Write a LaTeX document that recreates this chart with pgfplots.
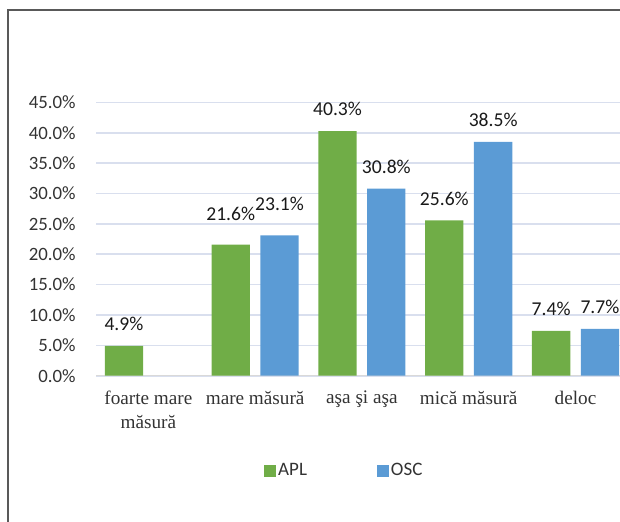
\documentclass[border=0pt]{standalone}
\usepackage{fontspec}
\setmainfont{Carlito}
\newfontfamily\catfont{Liberation Serif}
\usepackage{pgfplots}
\usepackage{pgfplotstable}
\pgfplotsset{compat=1.18}

\definecolor{aplgreen}{HTML}{70AD47}
\definecolor{oscblue}{HTML}{5B9BD5}
\definecolor{gridc}{HTML}{D9DFEE}
\definecolor{axisgray}{HTML}{D9D9D9}
\definecolor{framec}{HTML}{595959}
\definecolor{txt}{HTML}{333333}

% x, value, label lift (pt)
\pgfplotstableread{
x y dy
0 4.9 10.85
1 21.6 15.35
2 40.3 10.85
3 25.6 10.85
4 7.4 10.85
}\apl
\pgfplotstableread{
x y dy
1 23.1 15.7
2 30.8 10.85
3 38.5 10.85
4 7.7 10.85
}\osc

\begin{document}
\begin{tikzpicture}
\useasboundingbox (0,0) rectangle (310pt,260.5pt);
\clip (0,0) rectangle (310pt,260.5pt);
\draw[line width=1pt, framec] (4pt,-20pt) -- (4pt,255.5pt) -- (340pt,255.5pt);
\coordinate (O) at (48pt,72.65pt);
\begin{axis}[
    at={(O)}, anchor=south west,
    scale only axis,
    width=267pt, height=136.6pt,
    xmin=-0.49, xmax=4.51,
    ymin=0, ymax=45,
    ytick={0,5,...,45},
    xtick={0,1,2,3,4},
    xticklabels={{foarte mare\\măsură},{mare măsură},{aşa şi aşa},{mică măsură},{deloc}},
    major tick length=0pt,
    axis x line*=bottom,
    axis y line*=left,
    x axis line style={axisgray, line width=0.75pt, -},
    y axis line style={draw=none},
    ymajorgrids=true,
    grid style={gridc, line width=0.8pt},
    /pgf/number format/assume math mode=true,
    yticklabel={\pgfmathprintnumber[fixed,fixed zerofill,precision=1]{\tick}\%},
    yticklabel style={anchor=east, inner sep=0pt, xshift=-10pt, text=txt,
        font=\fontsize{9.4}{11}\selectfont},
    xticklabel style={anchor=north, inner sep=0pt, yshift=-7.5pt, align=center,
        text=txt, font=\catfont\fontsize{9.6}{11.85}\selectfont},
    ybar,
    bar width=19.15pt,
    nodes near coords={\pgfmathprintnumber[fixed,fixed zerofill,precision=1]{\pgfplotspointmeta}\%},
    visualization depends on={\thisrow{dy} \as \dy},
    every node near coord/.append style={anchor=center, inner sep=0pt, yshift=\dy pt,
        text=black!90, font=\fontsize{9.8}{11}\selectfont},
    legend columns=2,
    legend style={at={(0.465,-0.35)}, anchor=center, draw=none, fill=none,
        inner sep=0pt, font=\fontsize{9.5}{11}\selectfont, text=txt,
        /tikz/every even column/.append style={column sep=34pt},
        nodes={inner sep=1pt}},
    legend image code/.code={\fill[#1] (0pt,-3pt) rectangle (6pt,3pt);},
]
\addplot[fill=aplgreen, draw=none, bar shift=-12.2pt] table[x=x, y=y] {\apl};
\addplot[fill=oscblue, draw=none, bar shift=12.2pt] table[x=x, y=y] {\osc};
\legend{APL, OSC}
\end{axis}
\end{tikzpicture}
\end{document}
